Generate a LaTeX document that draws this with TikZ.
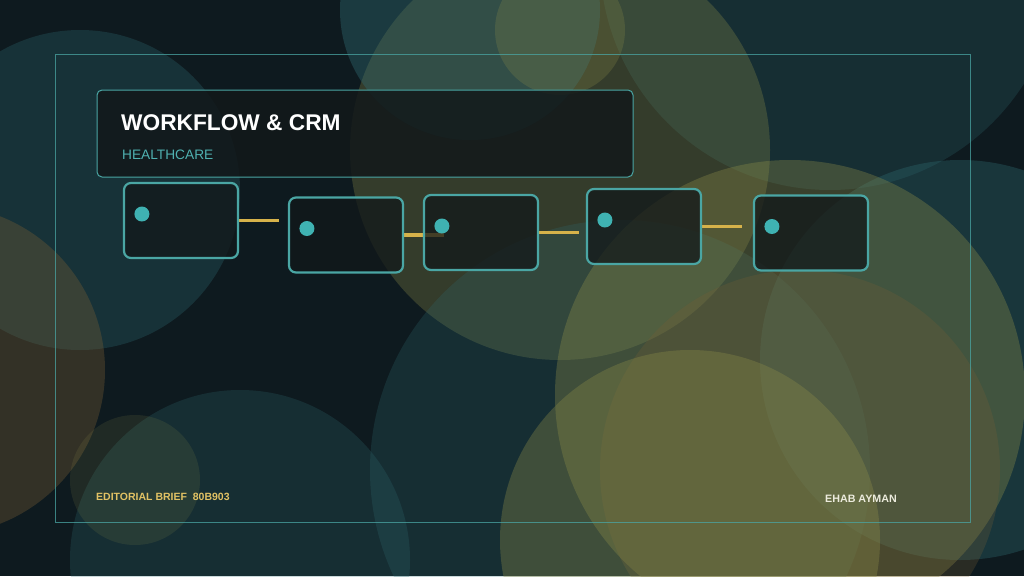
\documentclass[tikz,border=0pt]{standalone}
\usepackage{fontspec}
\setmainfont{Liberation Sans}
\usetikzlibrary{positioning}
\pgfdeclarelayer{bokeh}
\pgfdeclarelayer{links}
\pgfsetlayers{bokeh,links,main}

\definecolor{bgdark}{HTML}{0E1A1F}
\definecolor{tealline}{HTML}{4AA6A4}
\definecolor{tealdot}{HTML}{3FB2B2}
\definecolor{goldline}{HTML}{D6B24A}
\definecolor{boxfill}{HTML}{12181A}
\definecolor{bokteal}{HTML}{2F6B72}
\definecolor{bokolive}{HTML}{8C8C48}
\definecolor{bokbrown}{HTML}{7A5E34}
\definecolor{subteal}{HTML}{4FB0B0}
\definecolor{briefgold}{HTML}{E2C264}
\definecolor{authwhite}{HTML}{ECEBDD}

\begin{document}
\begin{tikzpicture}[x=1pt, y=-1pt,
  stepbox/.style={draw=tealline, line width=2.2pt, rounded corners=7pt,
    fill=boxfill, fill opacity=.75, minimum width=114pt, minimum height=75pt, inner sep=0pt},
  dot/.style={circle, fill=tealdot, minimum size=15pt, inner sep=0pt},
  link/.style={goldline, line width=3.5pt},
  label/.style={anchor=base west, inner sep=0pt}]
  % page and background
  \useasboundingbox (0,0) rectangle (1024,576);
  \begin{pgfonlayer}{bokeh}
    \fill[bgdark] (0,0) rectangle (1024,576);
    \begin{scope}
      \clip (0,0) rectangle (1024,576);
      % soft circles: x, y, r, colour, opacity
      \foreach \cx/\cy/\r/\c/\o in {
          80/190/160/bokteal/.3, -60/370/165/bokbrown/.35,
          240/560/170/bokteal/.25, 135/480/65/bokolive/.15,
          830/-40/230/bokteal/.25, 560/150/210/bokolive/.3,
          470/10/130/bokteal/.4, 560/30/65/bokolive/.25,
          620/470/250/bokteal/.25, 960/360/200/bokteal/.35,
          790/395/235/bokolive/.35, 800/470/200/bokbrown/.25,
          690/540/190/bokolive/.35}
        \fill[\c, opacity=\o] (\cx,\cy) circle (\r);
    \end{scope}
  \end{pgfonlayer}

  % outer frame
  \draw[tealline, opacity=.75, line width=.8pt] (55,54) rectangle (970,522);

  % title panel
  \node[draw=tealline, line width=1pt, rounded corners=5pt, fill=boxfill, fill opacity=.85,
    minimum width=536pt, minimum height=87pt, inner sep=0pt] (panel) at (365,133.5) {};
  \node[label, text=white, font=\bfseries\fontsize{22.7}{26}\selectfont]
    (title) at (121,130) {WORKFLOW \& CRM};
  \node[label, text=subteal, font=\fontsize{13.7}{16}\selectfont]
    (sub) at (122,159) {HEALTHCARE};

  % steps
  \foreach \i/\x/\y in {1/181/220.5, 2/346/235, 3/481/232.5, 4/644/226.5, 5/811/233} {
    \node[stepbox] (s\i) at (\x,\y) {};
    \node[dot] (d\i) at ([shift={(19,-6.5)}]s\i.west) {};
  }

  % connectors (under the boxes)
  \begin{pgfonlayer}{links}
    \foreach \i in {1,...,4} {
      \coordinate (e\i) at ([xshift=40pt]s\i.east);
      \draw[link] (s\i.east) -- (e\i);
    }
  \end{pgfonlayer}

  % footer
  \node[label, text=briefgold, font=\bfseries\fontsize{10.5}{12}\selectfont]
    (brief) at (96,500) {EDITORIAL BRIEF\ \ 80B903};
  \node[label, text=authwhite, font=\bfseries\fontsize{10.7}{12}\selectfont]
    (author) at (825,502) {EHAB AYMAN};
\end{tikzpicture}
\end{document}
